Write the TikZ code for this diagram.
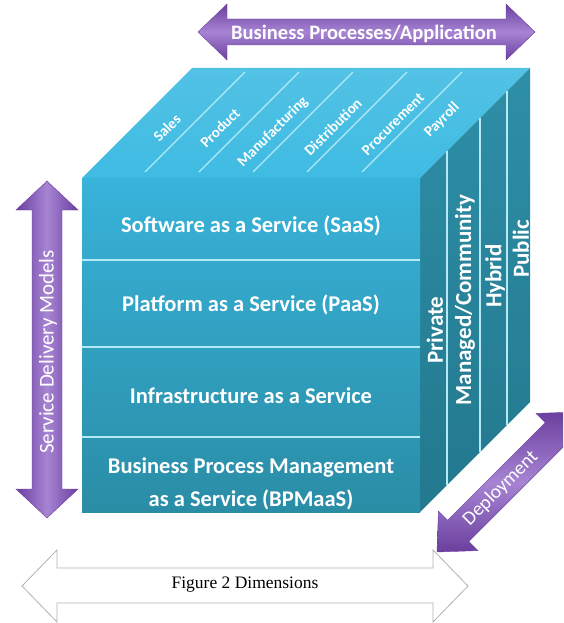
\documentclass[tikz,border=0pt]{standalone}
\usepackage{fontspec}
\setmainfont{Carlito}
\newfontfamily\capfont{Liberation Serif}
\definecolor{topface}{HTML}{3FBBE2}
\definecolor{frontface}{HTML}{38B3DA}
\definecolor{frontlow}{HTML}{2A8DA6}
\definecolor{sideface}{HTML}{2D8FA7}
\definecolor{sidelow}{HTML}{23788E}
\definecolor{lineblue}{HTML}{B4EAF6}
\definecolor{arrowdark}{HTML}{6A3F9E}
\definecolor{arrowlight}{HTML}{A784D3}
\begin{document}
\begin{tikzpicture}[x=1pt,y=-1pt,
    facelabel/.style={text=white,font=\bfseries\fontsize{22.5}{33}\selectfont,align=center},
    toplabel/.style={text=white,font=\bfseries\fontsize{15}{17}\selectfont,rotate=45,inner sep=0pt},
    sidelabel/.style={text=white,font=\bfseries\fontsize{23}{26}\selectfont,rotate=90,inner sep=0pt},
    arrowtext/.style={text=white,inner sep=0pt},
    edgeline/.style={draw=lineblue,line width=1.2pt},
    bigarrow/.style={draw=arrowdark,line width=0.4pt}
  ]
  \clip (0,0) rectangle (563,623);

  % cube faces
  \shade[top color=topface!90!white,bottom color=topface] (82,178) -- (192,68) -- (530,68) -- (420,178) -- cycle;
  \shade[top color=sideface,bottom color=sidelow] (420,178) -- (530,68) -- (530,402) -- (420,512) -- cycle;
  \shade[top color=frontface,bottom color=frontlow] (82,178) rectangle (420,512);

  \foreach \y in {260,347,437}
    \draw[edgeline] (82,\y) -- (420,\y);
  \foreach \x in {447,480,507}
    \draw[edgeline] (\x,{178-(\x-420)}) -- (\x,{512-(\x-420)});
  \foreach \x in {145,199,253,307,362}
    \draw[edgeline] (\x,172) -- ++(100,-100);

  \node[facelabel] (saas) at (251,226) {Software as a Service (SaaS)};
  \node[facelabel] (paas) at (251,305) {Platform as a Service (PaaS)};
  \node[facelabel] (iaas) at (251,396) {Infrastructure as a Service};
  \node[facelabel] (bpmaas) at (251,484) {Business Process Management\\as a Service (BPMaaS)};

  \foreach \px/\py/\lbl [count=\i] in {167/128/Sales,220/128/Product,273/132/Manufacturing,
      333/127/Distribution,393/124/Procurement,442/120/Payroll}
    \node[toplabel] (proc\i) at (\px,\py) {\lbl};

  \node[sidelabel] (private) at (435,330) {Private};
  \node[sidelabel] (managed) at (465,300) {Managed/Community};
  \node[sidelabel] (hybrid) at (495,276) {Hybrid};
  \node[sidelabel] (public) at (521,249) {Public};

  % business processes arrow
  \shade[bigarrow,top color=arrowdark,bottom color=arrowdark,middle color=arrowlight]
    (198,32) -- (227,4) -- (227,19) -- (506,19) -- (506,4) -- (535,32)
    -- (506,60) -- (506,45) -- (227,45) -- (227,60) -- cycle;
  \node[arrowtext,font=\bfseries\fontsize{20.5}{22}\selectfont] (bizapp) at (364,34) {Business Processes/Application};

  % service delivery arrow
  \shade[bigarrow,left color=arrowdark,right color=arrowdark,middle color=arrowlight]
    (47,181) -- (78,210) -- (62,210) -- (62,489) -- (78,489) -- (47,518)
    -- (16,489) -- (32,489) -- (32,210) -- (16,210) -- cycle;
  \node[arrowtext,rotate=90,font=\fontsize{21}{24}\selectfont] (delivery) at (48,352) {Service Delivery Models};

  % dimensions arrow
  \filldraw[fill=white,draw=gray!60,line width=0.8pt]
    (22,586) -- (57,550) -- (57,568) -- (433,568) -- (433,550) -- (468,586)
    -- (433,622) -- (433,603) -- (57,603) -- (57,622) -- cycle;
  \node[font=\capfont\fontsize{17.5}{20}\selectfont] (caption) at (245,585) {Figure 2 Dimensions};

  % deployment arrow
  \begin{scope}[shift={(437,552)},rotate=45]
    \shade[bigarrow,top color=arrowdark,bottom color=arrowdark,middle color=arrowlight]
      (0,0) -- (30,-28) -- (30,-15) -- (168,-15) -- (168,-28) -- (198,0)
      -- (168,28) -- (168,15) -- (30,15) -- (30,28) -- cycle;
    \node[arrowtext,rotate=45,font=\fontsize{19.5}{22}\selectfont] (deploy) at (90,0) {Deployment};
  \end{scope}
\end{tikzpicture}
\end{document}
